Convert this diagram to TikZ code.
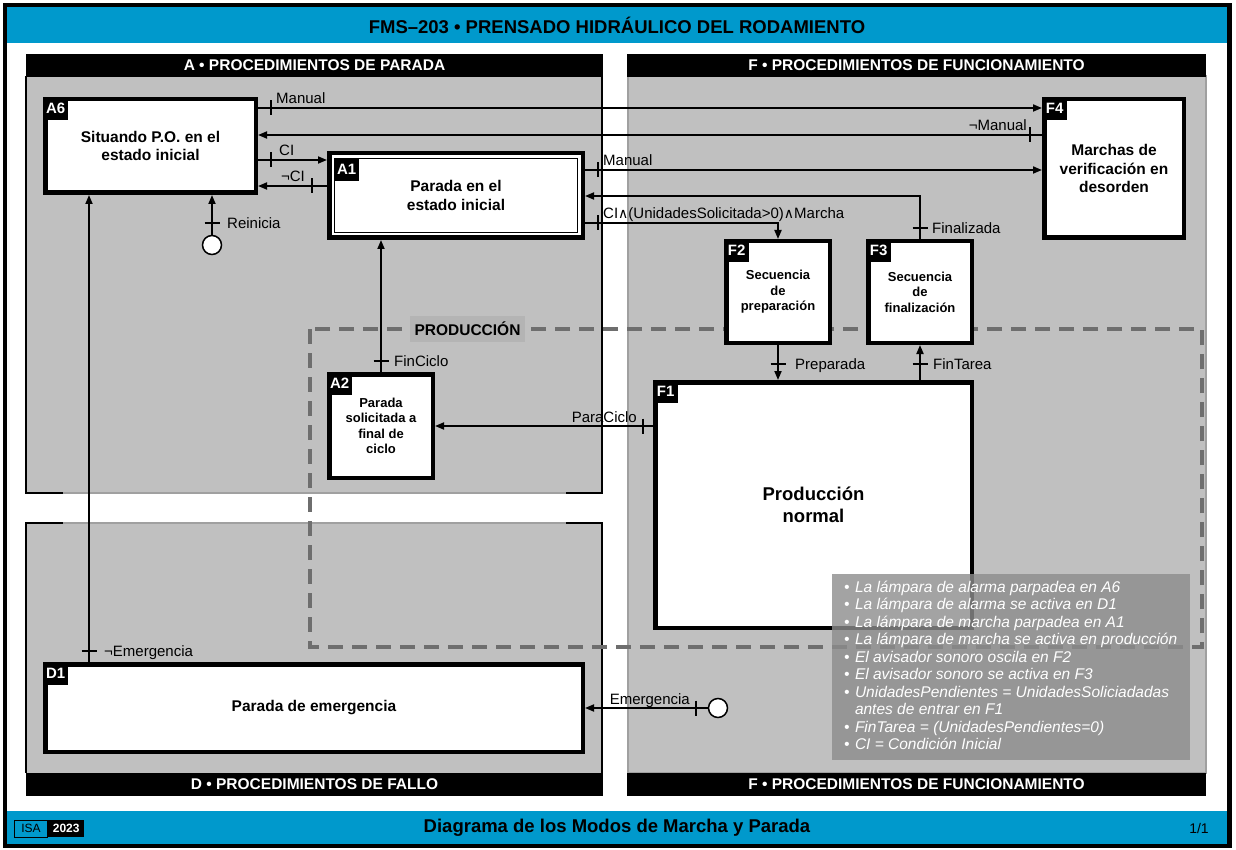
\documentclass[tikz,border=0pt]{standalone}
\usepackage{fontspec}
\setmainfont{Liberation Sans}
\newfontfamily\symfont{DejaVu Sans}
\usetikzlibrary{arrows.meta}
\definecolor{isablue}{RGB}{0,153,204}
\definecolor{panelgray}{RGB}{192,192,192}
\definecolor{edgegray}{RGB}{160,160,160}
\definecolor{dashgray}{RGB}{110,110,110}
\definecolor{lblgray}{RGB}{180,180,180}
\definecolor{legendgray}{RGB}{140,140,140}
\newcommand{\andsym}{{\symfont\fontsize{14}{14}\selectfont ∧}}
\newcommand{\bl}{\makebox[11pt][l]{•}}
\tikzset{
  stepbox/.style={draw, line width=4.5pt, fill=white, inner sep=0pt, align=center,
    font=\bfseries\fontsize{15.5}{18.5}\selectfont},
  smallbox/.style={stepbox, font=\bfseries\fontsize{13}{15.5}\selectfont},
  steptag/.style={fill=black, text=white, font=\bfseries\fontsize{15}{15}\selectfont,
    inner sep=0pt, minimum width=25pt, minimum height=23pt, anchor=north west},
  conn/.style={line width=1.8pt, -{Triangle[length=9pt,width=7pt]}},
  tickmark/.style={line width=1.8pt},
  lbl/.style={font=\fontsize{15}{15}\selectfont, inner sep=0pt},
  hdr/.style={fill=black, text=white, font=\bfseries\fontsize{15.5}{15.5}\selectfont, inner sep=0pt},
  initc/.style={circle, draw, line width=1.5pt, fill=white, minimum size=19pt, inner sep=0pt},
}
\begin{document}
\begin{tikzpicture}[x=1pt,y=-1pt]
\useasboundingbox (0,0) rectangle (1236,850);
\fill[white] (0,0) rectangle (1236,850);
% frame and bands
\fill[isablue] (7,7) rectangle (1228,43);
\fill[isablue] (7,811) rectangle (1228,844);
\draw[line width=4.5pt] (5,5) rectangle (1229.5,846);
\node[font=\bfseries\fontsize{18.5}{18.5}\selectfont] (title) at (617,25) {FMS–203 • PRENSADO HIDRÁULICO DEL RODAMIENTO};
\node[font=\bfseries\fontsize{18.5}{18.5}\selectfont] (foot) at (617,828) {Diagrama de los Modos de Marcha y Parada};
\node[draw, line width=1pt, font=\fontsize{12}{12}\selectfont, minimum width=33pt, minimum height=17pt, inner sep=0pt] (isa) at (31,828.5) {ISA};
\node[fill=black, text=white, font=\bfseries\fontsize{12}{12}\selectfont, minimum width=36pt, minimum height=17pt, inner sep=0pt, anchor=west] (year) at (isa.east) {2023};
\node[font=\fontsize{14}{14}\selectfont] (page) at (1199,828) {1/1};
% panels
\fill[panelgray] (26,76) rectangle (602,493);
\fill[panelgray] (26,523) rectangle (602,773);
\filldraw[fill=panelgray, draw=edgegray, line width=1.2pt] (628,76) rectangle (1206,773);
\draw[edgegray, line width=1.2pt] (63,493) -- (566,493) (63,523) -- (566,523);
\draw[line width=2pt] (63,493) -- (26,493) -- (26,76) (566,493) -- (602,493) -- (602,76);
\draw[line width=2pt] (63,523) -- (26,523) -- (26,773) (566,523) -- (602,523) -- (602,773);
\node[hdr, minimum width=577pt, minimum height=23pt] (hA) at (314.5,65.5) {A • PROCEDIMIENTOS DE PARADA};
\node[hdr, minimum width=579pt, minimum height=23pt] (hF) at (916.5,65.5) {F • PROCEDIMIENTOS DE FUNCIONAMIENTO};
\node[hdr, minimum width=577pt, minimum height=23pt] (hD) at (314.5,784.5) {D • PROCEDIMIENTOS DE FALLO};
\node[hdr, minimum width=579pt, minimum height=23pt] (hF2) at (916.5,784.5) {F • PROCEDIMIENTOS DE FUNCIONAMIENTO};
% production zone
\draw[dashgray, line width=4pt, dash pattern=on 15pt off 9pt] (310,329) rectangle (1202,647);
\node[fill=lblgray, font=\bfseries\fontsize{15.5}{15.5}\selectfont, minimum width=115pt, minimum height=26pt, inner sep=0pt] (prod) at (467.5,329) {PRODUCCIÓN};
% steps
\node[stepbox, minimum width=210.5pt, minimum height=93.5pt] (A6) at (150.5,146) {Situando P.O. en el\\estado inicial};
\node[steptag] (A6t) at (A6.north west) {A6};
\node[stepbox, minimum width=253.5pt, minimum height=84.5pt] (A1) at (456,195.5) {Parada en el\\estado inicial};
\draw[line width=1.5pt] ([xshift=7.5pt,yshift=-7.5pt]A1.north west) rectangle ([xshift=-7.5pt,yshift=7.5pt]A1.south east);
\node[steptag] (A1t) at ([xshift=7pt,yshift=-7pt]A1.north west) {A1};
\node[stepbox, minimum width=139.5pt, minimum height=138.5pt] (F4) at (1114,168.5) {Marchas de\\verificación en\\desorden};
\node[steptag] (F4t) at (F4.north west) {F4};
\node[smallbox, minimum width=103.5pt, minimum height=101.5pt] (F2) at (778,292) {Secuencia\\de\\preparación};
\node[steptag] (F2t) at (F2.north west) {F2};
\node[smallbox, minimum width=103.5pt, minimum height=101.5pt] (F3) at (920,292) {Secuencia\\de\\finalización};
\node[steptag] (F3t) at (F3.north west) {F3};
\node[smallbox, minimum width=103.5pt, minimum height=103.5pt] (A2) at (381,426) {Parada\\solicitada a\\final de\\ciclo};
\node[steptag] (A2t) at (A2.north west) {A2};
\node[stepbox, minimum width=316.5pt, minimum height=245.5pt, font=\bfseries\fontsize{18.5}{21.5}\selectfont] (F1) at (813.5,505) {Producción\\normal};
\node[steptag] (F1t) at (F1.north west) {F1};
\node[stepbox, minimum width=537.5pt, minimum height=87.5pt] (D1) at (314,708) {Parada de emergencia};
\node[steptag] (D1t) at (D1.north west) {D1};
% initial circles
\node[initc] (R) at (212,245) {};
\node[initc] (E) at (718,708) {};
% connectors
\draw[conn] (A6.east |- 0,108) -- (F4.west |- 0,108);
\draw[conn] (F4.west |- 0,135) -- (A6.east |- 0,135);
\draw[conn] (A6.east |- 0,160) -- (A1.west |- 0,160);
\draw[conn] (A1.west |- 0,186) -- (A6.east |- 0,186);
\draw[conn] (A1.east |- 0,170) -- (F4.west |- 0,170);
\draw[conn] (F3.north) -- (F3.north |- 0,196) -- (A1.east |- 0,196);
\draw[conn] (A1.east |- 0,223) -| (F2.north);
\draw[conn] (R.north) -- (R.north |- A6.south);
\draw[conn] (A2.north) -- (A2.north |- A1.south);
\draw[conn] (F1.west |- A2.east) -- (A2.east);
\draw[conn] (F2.south) -- (F2.south |- F1.north);
\draw[conn] (F1.north -| F3.south) -- (F3.south);
\draw[conn] (D1.north -| 89,0) -- (A6.south -| 89,0);
\draw[conn] (E.west) -- (E.west -| D1.east);
% ticks
\draw[tickmark] (271,100.5) -- (271,115.5);
\draw[tickmark] (1030,127.5) -- (1030,142.5);
\draw[tickmark] (271,152.5) -- (271,167.5);
\draw[tickmark] (312,178.5) -- (312,193.5);
\draw[tickmark] (598,162.5) -- (598,177.5);
\draw[tickmark] (912.5,228) -- (927.5,228);
\draw[tickmark] (598,215.5) -- (598,230.5);
\draw[tickmark] (204.5,223) -- (219.5,223);
\draw[tickmark] (373.5,361) -- (388.5,361);
\draw[tickmark] (643,418.5) -- (643,433.5);
\draw[tickmark] (770.5,364) -- (785.5,364);
\draw[tickmark] (912.5,364) -- (927.5,364);
\draw[tickmark] (81.5,651) -- (96.5,651);
\draw[tickmark] (696,700.5) -- (696,715.5);
% labels
\node[lbl, anchor=base west] (l1) at (276,104) {Manual};
\node[lbl, anchor=base east] (l2) at (1027,131) {¬Manual};
\node[lbl, anchor=base west] (l3) at (279,156) {CI};
\node[lbl, anchor=base east] (l4) at (305,182) {¬CI};
\node[lbl, anchor=base west] (l5) at (603,166) {Manual};
\node[lbl, anchor=base west] (l6) at (932,233.5) {Finalizada};
\node[lbl, anchor=base west] (l7) at (603,219) {CI\andsym(UnidadesSolicitada>0)\andsym Marcha};
\node[lbl, anchor=base west] (l8) at (227,228.5) {Reinicia};
\node[lbl, anchor=base west] (l9) at (394,366.5) {FinCiclo};
\node[lbl, anchor=base east] (l10) at (637,422) {ParaCiclo};
\node[lbl, anchor=base west] (l11) at (795,369.5) {Preparada};
\node[lbl, anchor=base west] (l12) at (933,369.5) {FinTarea};
\node[lbl, anchor=base west] (l13) at (104,656.5) {¬Emergencia};
\node[lbl, anchor=base east] (l14) at (690,704) {Emergencia};
% legend
\node[fill=legendgray, fill opacity=0.8, minimum width=358pt, minimum height=186pt, inner sep=0pt] (legend) at (1011,667) {};
\node[anchor=north west, inner sep=0pt, align=left, text=white, font=\itshape\fontsize{15.5}{17.5}\selectfont] (legtxt) at ([xshift=12pt,yshift=-7pt]legend.north west) {%
\bl La lámpara de alarma parpadea en A6\\
\bl La lámpara de alarma se activa en D1\\
\bl La lámpara de marcha parpadea en A1\\
\bl La lámpara de marcha se activa en producción\\
\bl El avisador sonoro oscila en F2\\
\bl El avisador sonoro se activa en F3\\
\bl UnidadesPendientes = UnidadesSoliciadadas\\
\makebox[11pt]{}antes de entrar en F1\\
\bl FinTarea = (UnidadesPendientes=0)\\
\bl CI = Condición Inicial};
\end{tikzpicture}
\end{document}
